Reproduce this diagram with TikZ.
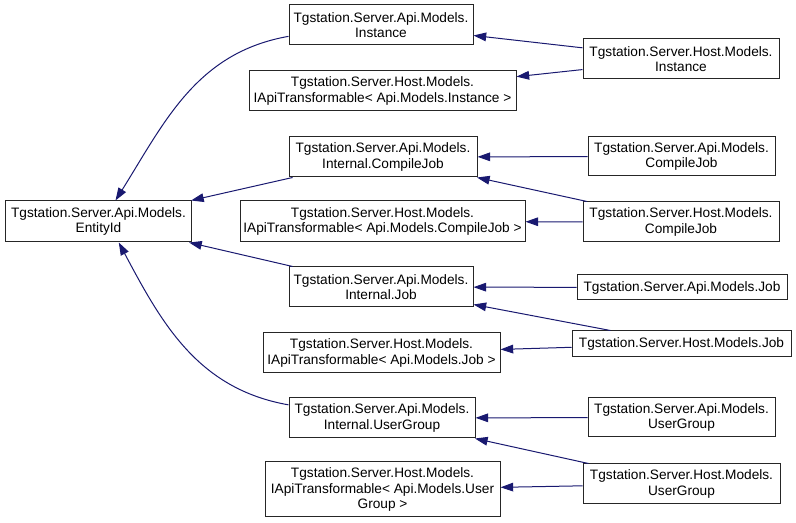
\documentclass[tikz,border=0pt]{standalone}
\usepackage{fontspec}
\setmainfont{Liberation Sans}
\usepackage{tikz}
\usetikzlibrary{arrows.meta, positioning}
\definecolor{midnightblue}{rgb}{0.1, 0.1, 0.44}
\tikzstyle{cls} = [rectangle, draw=black!85, line width=0.75pt, fill=white, text centered, align=center, inner sep=0pt]
\tikzstyle{arrow} = [draw=midnightblue, line width=0.75pt, -{Triangle[length=9.5pt, width=6.5pt]}]

\begin{document}
\begin{tikzpicture}[x=0.75pt, y=-0.75pt, font=\fontsize{10.25}{11.4}\selectfont]
\useasboundingbox (0,0) rectangle (796,523);

% Base class
\node (entity) [cls, minimum width=140pt, minimum height=30.75pt] at (98.5,221.5) {Tgstation.Server.Api.Models.\\EntityId};

% Middle column
\node (apiinst) [cls, minimum width=138pt, minimum height=30pt] at (381,25) {Tgstation.Server.Api.Models.\\Instance};
\node (iinst) [cls, minimum width=200.25pt, minimum height=30pt] at (382.5,91) {Tgstation.Server.Host.Models.\\IApiTransformable< Api.Models.Instance >};
\node (intcjob) [cls, minimum width=141pt, minimum height=30pt] at (383,157) {Tgstation.Server.Api.Models.\\Internal.CompileJob};
\node (icjob) [cls, minimum width=213.75pt, minimum height=30.75pt] at (382.5,221.5) {Tgstation.Server.Host.Models.\\IApiTransformable< Api.Models.CompileJob >};
\node (intjob) [cls, minimum width=138pt, minimum height=30pt] at (381,287) {Tgstation.Server.Api.Models.\\Internal.Job};
\node (ijob) [cls, minimum width=177.75pt, minimum height=30pt] at (381.5,353) {Tgstation.Server.Host.Models.\\IApiTransformable< Api.Models.Job >};
\node (intugroup) [cls, minimum width=139.5pt, minimum height=30pt] at (382,418) {Tgstation.Server.Api.Models.\\Internal.UserGroup};
\node (iugroup) [cls, minimum width=176.25pt, minimum height=41.25pt] at (382.5,489.5) {Tgstation.Server.Host.Models.\\IApiTransformable< Api.Models.User\\Group >};

% Right column
\node (hostinst) [cls, minimum width=147pt, minimum height=30pt] at (681,59) {Tgstation.Server.Host.Models.\\Instance};
\node (apicjob) [cls, minimum width=140.25pt, minimum height=29.25pt] at (681.5,156.5) {Tgstation.Server.Api.Models.\\CompileJob};
\node (hostcjob) [cls, minimum width=147pt, minimum height=30pt] at (681,222) {Tgstation.Server.Host.Models.\\CompileJob};
\node (apijob) [cls, minimum width=157.5pt, minimum height=18.75pt] at (682,287.5) {Tgstation.Server.Api.Models.Job};
\node (hostjob) [cls, minimum width=164.25pt, minimum height=19.5pt] at (681.5,344) {Tgstation.Server.Host.Models.Job};
\node (apiugroup) [cls, minimum width=140.25pt, minimum height=29.25pt] at (681.5,417.5) {Tgstation.Server.Api.Models.\\UserGroup};
\node (hostugroup) [cls, minimum width=147.75pt, minimum height=30pt] at (681.5,484) {Tgstation.Server.Host.Models.\\UserGroup};

% Inheritance
\draw[arrow] (apiinst.187) to[out=190, in=58] (entity.51);
\draw[arrow] (intcjob) -- (entity);
\draw[arrow] (intjob) -- (entity);
\draw[arrow] (intugroup.172) to[out=170, in=-62] (entity.-46);

\draw[arrow] (hostinst) -- (apiinst);
\draw[arrow] (hostinst) -- (iinst);
\draw[arrow] (apicjob) -- (intcjob);
\draw[arrow] (hostcjob) -- (intcjob);
\draw[arrow] (hostcjob) -- (icjob);
\draw[arrow] (apijob) -- (intjob);
\draw[arrow] (hostjob) -- (intjob);
\draw[arrow] (hostjob) -- (ijob);
\draw[arrow] (apiugroup) -- (intugroup);
\draw[arrow] (hostugroup) -- (intugroup);
\draw[arrow] (hostugroup) -- (iugroup);

\end{tikzpicture}
\end{document}
